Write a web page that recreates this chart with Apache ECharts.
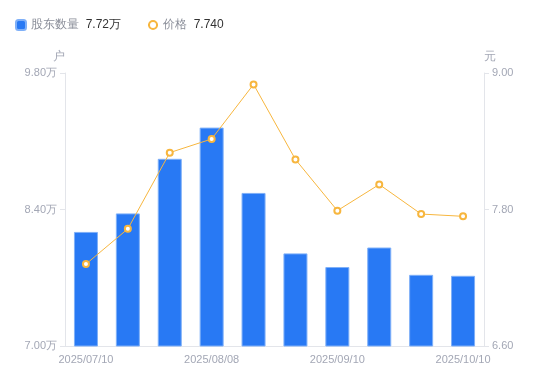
<!DOCTYPE html>
<html>
<head>
<meta charset="utf-8">
<script src="https://cdn.jsdelivr.net/npm/echarts@6/dist/echarts.min.js"></script>
<style>
  html, body { margin: 0; padding: 0; background: #fff; }
  #chart { width: 550px; height: 381px; }
</style>
</head>
<body>
<div id="chart"></div>
<script>
const dates = ['2025/07/10', '2025/07/20', '2025/07/31', '2025/08/08', '2025/08/20',
  '2025/08/29', '2025/09/10', '2025/09/19', '2025/09/30', '2025/10/10']
// 股东数量 (万户)
const holders = [8.17, 8.36, 8.92, 9.24, 8.57, 7.95, 7.81, 8.01, 7.73, 7.72]
// 价格 (元)
const prices = [7.32, 7.63, 8.30, 8.42, 8.90, 8.24, 7.79, 8.02, 7.76, 7.74]

const leftTicks = { min: 7.0, max: 9.8, interval: 1.4 }
const rightTicks = { min: 6.6, max: 9.0, interval: 1.2 }

const labelColor = '#A3A7B5'
const axisLineColor = '#E3E5EA'

let mycharts = echarts.init(document.getElementById('chart'))
let option = {
  animation: false,
  textStyle: { fontFamily: 'sans-serif' },
  legend: {
    left: 10,
    top: 14,
    itemWidth: 10,
    itemHeight: 10,
    itemGap: 26,
    formatter: function(name) {
      if (name === '股东数量') {
        return '{n|' + name + '}  {v|' + holders[holders.length - 1].toFixed(2) + '万}'
      }
      return '{n|' + name + '}  {v|' + prices[prices.length - 1].toFixed(3) + '}'
    },
    textStyle: {
      rich: {
        n: { color: '#8A8E99', fontSize: 12 },
        v: { color: '#333', fontSize: 12 }
      }
    },
    data: [
      { name: '股东数量', icon: 'roundRect' },
      { name: '价格', lineStyle: { width: 2 } }
    ]
  },
  grid: { left: 65, right: 66, top: 73, bottom: 35 },
  xAxis: {
    type: 'category',
    data: dates,
    axisLine: { lineStyle: { color: axisLineColor } },
    axisTick: { show: false },
    axisLabel: { color: labelColor, fontSize: 11, interval: 2, margin: 8 }
  },
  yAxis: [
    {
      type: 'value',
      name: '户',
      nameGap: 10,
      nameTextStyle: { color: labelColor, fontSize: 12, align: 'right' },
      min: leftTicks.min,
      max: leftTicks.max,
      interval: leftTicks.interval,
      axisLine: { show: true, lineStyle: { color: axisLineColor } },
      axisTick: { show: true, length: 5, lineStyle: { color: axisLineColor } },
      splitLine: { show: false },
      axisLabel: {
        color: labelColor,
        fontSize: 11,
        margin: 8,
        formatter: v => v.toFixed(2) + '万'
      }
    },
    {
      type: 'value',
      name: '元',
      nameGap: 10,
      nameTextStyle: { color: labelColor, fontSize: 12, align: 'left' },
      min: rightTicks.min,
      max: rightTicks.max,
      interval: rightTicks.interval,
      position: 'right',
      axisLine: { show: true, lineStyle: { color: axisLineColor } },
      axisTick: { show: true, length: 5, lineStyle: { color: axisLineColor } },
      splitLine: { show: false },
      axisLabel: {
        color: labelColor,
        fontSize: 11,
        margin: 8,
        formatter: v => v.toFixed(2)
      }
    }
  ],
  series: [
    {
      name: '股东数量',
      type: 'bar',
      data: holders,
      barWidth: 24,
      itemStyle: { color: '#2879F4', borderColor: '#7FB0F8', borderWidth: 1 }
    },
    {
      name: '价格',
      type: 'line',
      yAxisIndex: 1,
      data: prices,
      symbol: 'emptyCircle',
      symbolSize: 6,
      lineStyle: { color: '#F7B63E', width: 1 },
      itemStyle: { color: '#F7B63E', borderWidth: 2 }
    }
  ]
}
mycharts.setOption(option)
window.addEventListener('resize', function() {
  mycharts.resize()
})
</script>
</body>
</html>
